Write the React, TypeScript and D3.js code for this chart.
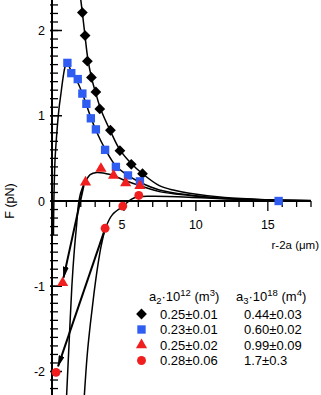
import React from 'react';
import * as d3 from 'd3';

const width = 321;
const height = 395;

// measured points, [r-2a (um), F (pN)]
const diamondPts = [
  [2.11, 2.21], [2.30, 1.94], [2.46, 1.64], [2.74, 1.45], [3.05, 1.28],
  [3.32, 1.08], [4.06, 0.83], [4.72, 0.59], [5.51, 0.43], [6.29, 0.32],
];
const squarePts = [
  [1.07, 1.62], [1.34, 1.50], [1.79, 1.43], [2.11, 1.26], [2.39, 1.14],
  [2.70, 0.97], [3.05, 0.84], [3.69, 0.60], [4.44, 0.40], [5.28, 0.30],
  [6.11, 0.23], [15.75, 0.0],
];
const trianglePts = [
  [2.33, 0.22], [3.40, 0.38], [4.28, 0.30], [5.12, 0.21], [6.11, 0.18], [0.74, -0.96],
];
const circlePts = [
  [6.03, 0.065], [4.92, -0.06], [3.69, -0.32], [0.28, -2.01],
];

// fitted curves
const diamondFit = [
  [1.97, 2.40], [2.11, 2.21], [2.30, 1.93], [2.48, 1.68], [2.74, 1.45],
  [3.05, 1.26], [3.40, 1.07], [4.06, 0.82], [4.72, 0.60], [5.51, 0.44],
  [6.29, 0.32], [7.46, 0.18], [8.5, 0.125], [9.55, 0.09], [12, 0.04],
  [15, 0.015], [18, 0.005],
];
const squareFit = [
  [0.10, -0.4], [0.13, 0.0], [0.21, 0.48], [0.35, 0.83], [0.49, 1.09],
  [0.63, 1.27], [0.78, 1.46], [0.92, 1.58], [1.05, 1.62], [1.34, 1.52],
  [1.79, 1.39], [2.11, 1.26], [2.39, 1.13], [2.70, 0.98], [3.05, 0.83],
  [3.69, 0.61], [4.44, 0.41], [5.28, 0.30], [6.11, 0.22], [7.46, 0.13],
  [9.55, 0.07], [12, 0.03], [15, 0.012], [18, 0.004],
];
const triangleFit = [
  [1.01, -2.30], [1.20, -1.62], [1.38, -1.0], [1.55, -0.58], [1.70, -0.30],
  [1.84, -0.04], [2.0, 0.10], [2.33, 0.23], [2.65, 0.31], [3.11, 0.335],
  [4.05, 0.31], [4.94, 0.25], [6.1, 0.18], [7.46, 0.11], [9.55, 0.065],
  [12, 0.03], [15, 0.012], [18, 0.004],
];
const circleFit = [
  [2.24, -2.30], [2.45, -1.80], [2.68, -1.42], [2.92, -1.08], [3.18, -0.76],
  [3.45, -0.50], [3.74, -0.31], [4.2, -0.16], [4.95, -0.06], [5.5, 0.02],
  [6.0, 0.05], [7.1, 0.055], [9.5, 0.045], [12, 0.025], [15, 0.01], [18, 0.004],
];

// arrows: [from, to]
const arrows = [
  [[2.20, 0.18], [0.80, -0.90]],
  [[3.62, -0.36], [0.42, -1.94]],
];

const xMajor = [5, 10, 15];
const xMinor = d3.range(1, 19);
const yMajor = [-2, -1, 0, 1, 2];
const yMinor = d3.range(-22, 24).map(i => i / 10);

const a2Labels = ['0.25±0.01', '0.23±0.01', '0.25±0.02', '0.28±0.06'];
const a3Labels = ['0.44±0.03', '0.60±0.02', '0.99±0.09', '1.7±0.3'];

const blue = '#2f5df2';
const red = '#f01e1e';

const x = d3.scaleLinear().domain([0, 18]).range([52, 311]);
const y = d3.scaleLinear().domain([0, 2]).range([201, 30.5]);

const line = d3.line<number[]>()
  .x(d => x(d[0]))
  .y(d => y(d[1]))
  .curve(d3.curveCatmullRom.alpha(0.5));

const sym = (type: d3.SymbolType, size: number) => d3.symbol().type(type).size(size)() as string;

const series = [
  { pts: diamondPts, fill: '#000', path: sym(d3.symbolSquare, 58), rot: 45 },
  { pts: squarePts, fill: blue, path: sym(d3.symbolSquare, 70), rot: 0 },
  { pts: trianglePts, fill: red, path: sym(d3.symbolTriangle, 54), rot: 0 },
  { pts: circlePts, fill: red, path: sym(d3.symbolCircle, 62), rot: 0 },
];
const fits = [diamondFit, squareFit, triangleFit, circleFit];

const font = '"Liberation Sans", Arial, sans-serif';

const App = () => {
  const axisY = x(0);
  const zeroY = y(0);
  const legendRows = [314, 329.5, 345, 360.5];
  return (
    <svg width={width} height={height} style={{ position: 'absolute', left: 0, top: 0 }}
      fontFamily={font} fontSize={12.5}>
      <defs>
        <clipPath id="plot">
          <rect x={axisY} y={0} width={width - axisY} height={height} />
        </clipPath>
        <marker id="head" viewBox="0 0 12 6" refX={11} refY={3} markerWidth={12} markerHeight={6}
          markerUnits="userSpaceOnUse" orient="auto">
          <path d="M0,0 L12,3 L0,6 Z" fill="#000" />
        </marker>
      </defs>

      {/* fitted curves */}
      <g clipPath="url(#plot)">
        {fits.map((f, i) => (
          <path key={i} d={line(f) as string} fill="none" stroke="#000" strokeWidth={1.5} />
        ))}
      </g>

      {/* x axis */}
      <line x1={axisY} x2={x(18)} y1={zeroY} y2={zeroY} stroke="#000" strokeWidth={2} />
      {xMinor.map(v => (
        <line key={v} x1={x(v)} x2={x(v)} y1={zeroY} y2={zeroY + (xMajor.includes(v) ? 10 : 6)}
          stroke="#000" strokeWidth={1.3} />
      ))}
      {xMajor.map(v => (
        <text key={v} x={x(v) - (v === 5 ? 2 : 0)} y={229} textAnchor="middle">{v}</text>
      ))}

      {/* y axis */}
      <line x1={axisY} x2={axisY} y1={0} y2={height} stroke="#000" strokeWidth={2} />
      {yMinor.map(v => (
        <line key={v} x1={axisY - 2} x2={axisY + 6} y1={y(v)} y2={y(v)} stroke="#000" strokeWidth={1.3} />
      ))}
      {yMajor.map(v => (
        <g key={v}>
          <line x1={axisY - 2} x2={axisY + 10} y1={y(v)} y2={y(v)} stroke="#000" strokeWidth={1.5} />
          <text x={45} y={y(v) + 4.5} textAnchor="end">{v}</text>
        </g>
      ))}

      <text transform={`translate(14,201) rotate(-90)`} textAnchor="middle">F (pN)</text>
      <text x={319} y={249} textAnchor="end" fontSize={11.5}>r-2a (μm)</text>

      {/* arrows */}
      {arrows.map((a, i) => (
        <line key={i} x1={x(a[0][0])} y1={y(a[0][1])} x2={x(a[1][0])} y2={y(a[1][1])}
          stroke="#000" strokeWidth={2} markerEnd="url(#head)" />
      ))}

      {/* data points */}
      {series.map((s, i) => (
        <g key={i}>
          {s.pts.map((p, j) => (
            <path key={j} d={s.path} fill={s.fill}
              transform={`translate(${x(p[0])},${y(p[1])}) rotate(${s.rot})`} />
          ))}
        </g>
      ))}

      {/* legend */}
      <g fontSize={13}>
        <text x={149} y={301}>
          a<tspan fontSize={9.5} dy={3}>2</tspan><tspan dy={-3}>·10</tspan>
          <tspan fontSize={9.5} dy={-5}>12</tspan><tspan dy={5}> (m</tspan>
          <tspan fontSize={9.5} dy={-5}>3</tspan><tspan dy={5}>)</tspan>
        </text>
        <text x={236} y={301}>
          a<tspan fontSize={9.5} dy={3}>3</tspan><tspan dy={-3}>·10</tspan>
          <tspan fontSize={9.5} dy={-5}>18</tspan><tspan dy={5}> (m</tspan>
          <tspan fontSize={9.5} dy={-5}>4</tspan><tspan dy={5}>)</tspan>
        </text>
        {series.map((s, i) => (
          <g key={i}>
            <path d={s.path} fill={s.fill} transform={`translate(141.5,${legendRows[i]}) rotate(${s.rot})`} />
            <text x={160} y={legendRows[i] + 4.5}>{a2Labels[i]}</text>
            <text x={244} y={legendRows[i] + 4.5}>{a3Labels[i]}</text>
          </g>
        ))}
      </g>
    </svg>
  );
};

export default App;
